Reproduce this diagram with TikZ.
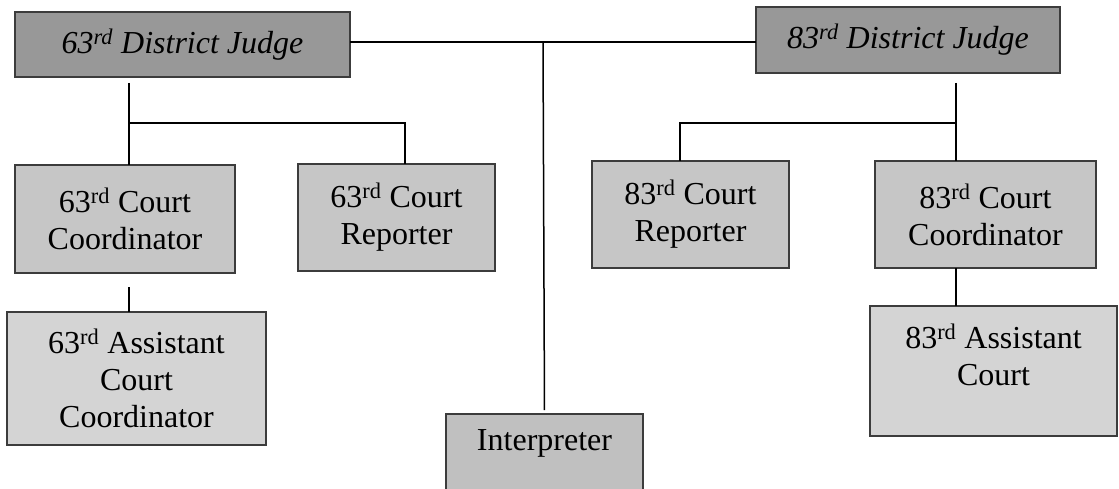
\documentclass[tikz,border=0pt]{standalone}
\usepackage{fontspec}
\setmainfont{Liberation Serif}
\definecolor{judgefill}{RGB}{152,152,152}
\definecolor{courtfill}{RGB}{198,198,198}
\definecolor{assistfill}{RGB}{212,212,212}
\definecolor{interpfill}{RGB}{192,192,192}
\definecolor{boxline}{RGB}{60,60,60}
\begin{document}
\begin{tikzpicture}[x=1pt,y=-1pt,
  box/.style={draw=boxline, line width=1.1pt, rectangle, inner sep=0pt, outer sep=0pt,
    anchor=north west, align=center, font=\fontsize{32}{37}\selectfont},
  judgebox/.style={box, fill=judgefill, font=\fontsize{32}{37}\selectfont\itshape},
  courtbox/.style={box, fill=courtfill},
  assistbox/.style={box, fill=assistfill},
  interpbox/.style={box, fill=interpfill},
  txt/.style={align=center, inner sep=0pt, font=\fontsize{32}{37}\selectfont},
  conn/.style={draw=black, line width=1.5pt}]
\useasboundingbox (0,0) rectangle (1119,489);
\fill[white] (0,0) rectangle (1119,489);

% top row
\node[judgebox, minimum width=335pt, minimum height=65pt] (j63) at (15,12) {63\textsuperscript{rd} District Judge};
\node[judgebox, minimum width=304pt, minimum height=66pt] (j83) at (756,7) {83\textsuperscript{rd} District Judge};

% second row
\node[courtbox, minimum width=220pt, minimum height=108pt] (c63) at (15,165) {63\textsuperscript{rd} Court\\Coordinator};
\node[courtbox, minimum width=197pt, minimum height=107pt] (r63) at (298,164) {63\textsuperscript{rd} Court\\Reporter};
\node[courtbox, minimum width=197pt, minimum height=107pt] (r83) at (592,161) {83\textsuperscript{rd} Court\\Reporter};
\node[courtbox, minimum width=221pt, minimum height=107pt] (c83) at (875,161) {83\textsuperscript{rd} Court\\Coordinator};

% third row
\node[assistbox, minimum width=259pt, minimum height=133pt] (a63) at (7,312) {63\textsuperscript{rd} Assistant\\Court\\Coordinator};
\node[assistbox, minimum width=247pt, minimum height=130pt] (a83) at (870,306) {};
\node[txt] (a83t) at ([yshift=-49pt]a83.north) {83\textsuperscript{rd} Assistant\\Court};
\node[interpbox, minimum width=197pt, minimum height=100pt] (interp) at (446,414) {};
\node[txt] (interpt) at ([yshift=-29pt]interp.north) {Interpreter};

% connector helper points
\coordinate (hub) at (543,42);
\coordinate (b63) at (129,123);
\coordinate (b63r) at (405,123);
\coordinate (b83) at (956,123);
\coordinate (b83l) at (680,123);

% connectors
\draw[conn] (j63.east |- hub) -- (j83.west |- hub);
\draw[conn, shorten >=4pt] (hub) -- (interp.north);
\draw[conn, shorten <=6pt] (j63.south -| b63) -- (c63.north -| b63);
\draw[conn] (b63) -- (b63r) -- (b63r |- r63.north);
\draw[conn, shorten <=14pt] (c63.south -| b63) -- (a63.north -| b63);
\draw[conn, shorten <=10pt] (j83.south -| b83) -- (c83.north -| b83);
\draw[conn] (b83) -- (b83l) -- (b83l |- r83.north);
\draw[conn] (c83.south -| b83) -- (a83.north -| b83);
\end{tikzpicture}
\end{document}
